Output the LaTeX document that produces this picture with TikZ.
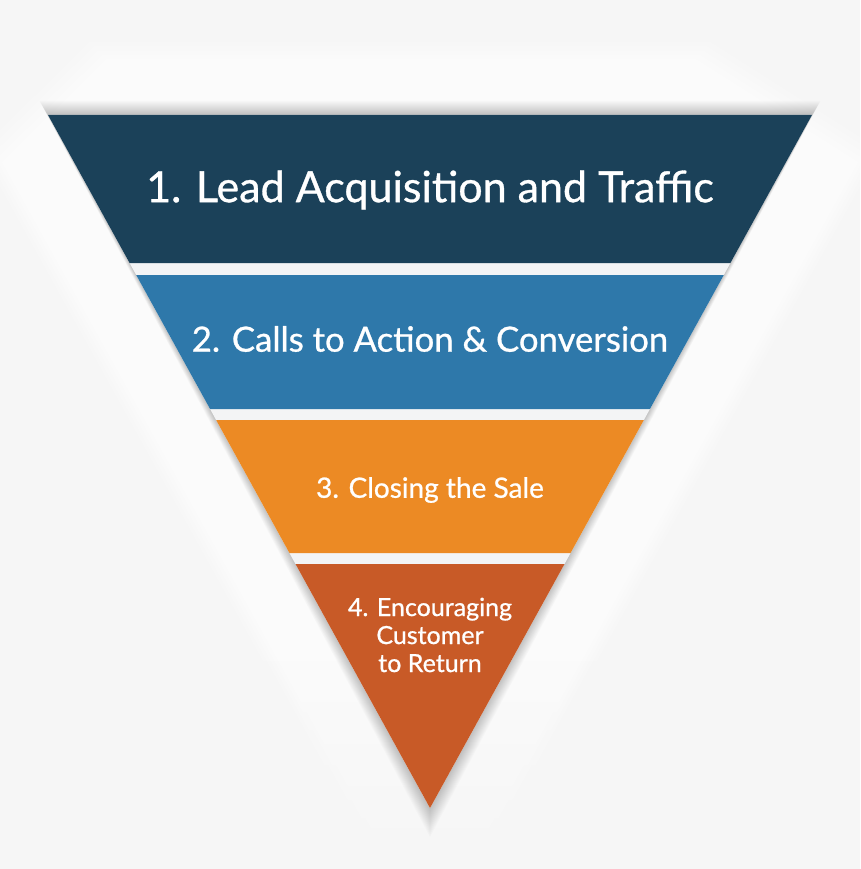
\documentclass[tikz,border=0pt]{standalone}
\usepackage{fontspec}
\setmainfont{Lato}[FakeBold=0.8]
\usetikzlibrary{calc, fadings}

\definecolor{bgcol}{HTML}{F6F6F6}
\definecolor{gapcol}{HTML}{F3F4F5}
\definecolor{navy}{HTML}{1B4159}
\definecolor{steel}{HTML}{2E78AA}
\definecolor{amber}{HTML}{EC8A24}
\definecolor{rust}{HTML}{C85A27}

\begin{document}
\begin{tikzpicture}[
  x=1pt, y=-1pt,
  lbl/.style={text=white, align=center, inner sep=0pt}
]
  \useasboundingbox[fill=bgcol] (0,0) rectangle (860,869);

  % soft white backdrop behind the funnel
  \begin{scope}
    \clip (0,0) rectangle (860,869);
    \foreach \k in {0,...,7} {
      \pgfmathsetmacro{\f}{1-0.012*\k}
      \fill[white, opacity=0.2, scale around={\f:(430,400)}]
        (90,42) -- (710,42) -- (880,150) -- (430,962) -- (-20,150) -- cycle;
    }
    \fill[bgcol, path fading=north] (0,660) rectangle (860,869);
  \end{scope}

  % shadow round the funnel, grown layer by layer
  \foreach \d in {1,...,14} {
    \fill[black, opacity=0.014]
      (48-0.6*\d,115-\d) -- (812+0.6*\d,115-\d) -- (430,808+2.07*\d) -- cycle;
  }

  % funnel body (gaps show through)
  \fill[gapcol] (48,115) -- (812,115) -- (430,808) -- cycle;

  \foreach \t/\b/\col [count=\n] in {115/263/navy, 275/409/steel, 420/553/amber, 564/808/rust} {
    \pgfmathsetmacro{\lt}{48+(\t-115)*0.5512}
    \pgfmathsetmacro{\lb}{48+(\b-115)*0.5512}
    \fill[\col] (\lt,\t) -- (860-\lt,\t) -- (860-\lb,\b) -- (\lb,\b) -- cycle;
  }

  \node[lbl, font=\fontsize{43}{50}\selectfont] (lead) at (430,190) {1. Lead Acquisition and Traffic};
  \node[lbl, font=\fontsize{34.7}{40}\selectfont] (calls) at (430,339) {2. Calls to Action \& Conversion};
  \node[lbl, font=\fontsize{28}{33}\selectfont] (close) at (430,490) {3. Closing the Sale};
  \node[lbl, font=\fontsize{25}{28}\selectfont] (ret) at (430,635) {4. Encouraging\\Customer\\to Return};
\end{tikzpicture}
\end{document}
